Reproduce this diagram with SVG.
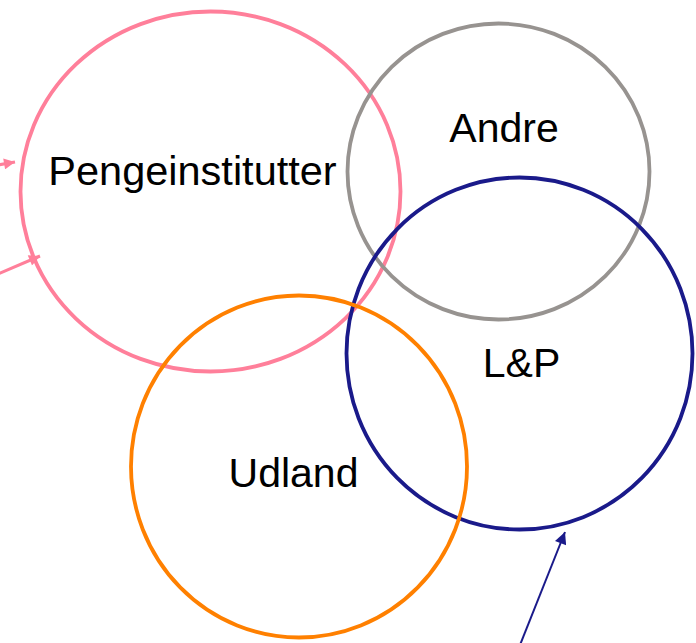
<svg xmlns="http://www.w3.org/2000/svg" width="696" height="643" viewBox="0 0 696 643">
<style>
.c{fill:none;stroke-width:3.8}
.t{font-family:"Liberation Sans",Arial,sans-serif;font-size:41px;fill:#000;text-anchor:middle}
</style>
<defs>
<marker id="ap" viewBox="0 0 10 10" refX="10" refY="5" markerWidth="14" markerHeight="11" markerUnits="userSpaceOnUse" orient="auto"><path d="M0,0L10,5L0,10z" fill="#ff7f9a"/></marker>
<marker id="an" viewBox="0 0 10 10" refX="10" refY="5" markerWidth="15" markerHeight="12" markerUnits="userSpaceOnUse" orient="auto"><path d="M0,0L10,5L0,10z" fill="#1a1a8a"/></marker>
</defs>
<rect width="696" height="643" fill="#fff"/>
<g id="pengeinstitutter">
<ellipse class="c" cx="210.5" cy="191.5" rx="190" ry="180" stroke="#ff7f9a"/>
<text class="t" x="192.5" y="185" style="font-size:41.5px">Pengeinstitutter</text>
</g>
<g id="andre">
<ellipse class="c" cx="498.5" cy="171.5" rx="151" ry="148" stroke="#979390"/>
<text class="t" x="504" y="142">Andre</text>
</g>
<g id="lp">
<ellipse class="c" cx="519.5" cy="353.5" rx="173" ry="176" stroke="#1a1a8a"/>
<text class="t" x="521.5" y="377">L&amp;P</text>
</g>
<g id="udland">
<ellipse class="c" cx="299" cy="466.5" rx="168" ry="171" stroke="#ff8000"/>
<text class="t" x="293.5" y="487">Udland</text>
</g>
<g id="connectors">
<line x1="-2" y1="165" x2="15" y2="162" stroke="#ff7f9a" stroke-width="3" marker-end="url(#ap)"/>
<line x1="-2" y1="274" x2="40" y2="256" stroke="#ff7f9a" stroke-width="3" marker-end="url(#ap)"/>
<line x1="520" y1="645" x2="565" y2="532" stroke="#1a1a8a" stroke-width="2" marker-end="url(#an)"/>
</g>
</svg>
